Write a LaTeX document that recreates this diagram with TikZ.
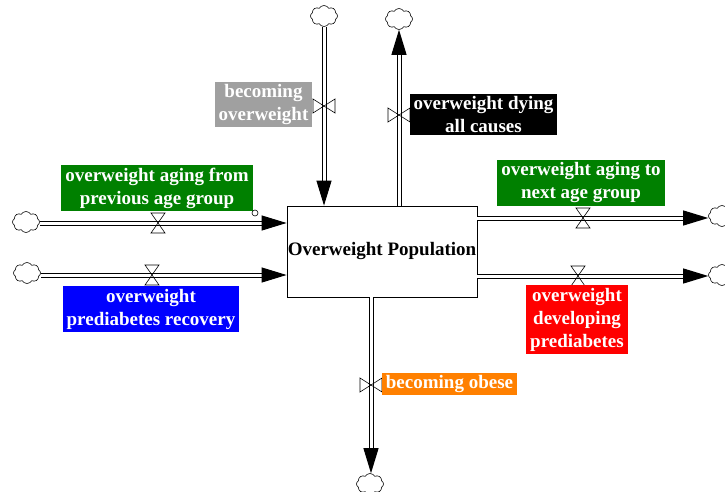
\documentclass[tikz,border=0pt]{standalone}
\usepackage{fontspec}
\setmainfont{Liberation Serif}
\usetikzlibrary{arrows.meta,shapes.symbols}
\definecolor{vgreen}{RGB}{0,128,0}
\definecolor{vgrey}{RGB}{160,160,160}
\definecolor{vblue}{RGB}{0,0,255}
\definecolor{vred}{RGB}{255,0,0}
\definecolor{vorange}{RGB}{255,128,0}
\begin{document}
\begin{tikzpicture}[x=1pt,y=-1pt,
  pipe/.style={draw=black,double=white,line width=1pt,double distance=3pt,-{Triangle[length=25pt,width=15pt]}},
  sky/.style={cloud,draw,cloud puffs=8,cloud puff arc=120,aspect=1.25,minimum width=27pt,minimum height=21pt,inner sep=0pt,line width=0.6pt},
  lbl/.style={fill=#1,text=white,font=\bfseries\fontsize{19}{23}\selectfont,align=center,inner xsep=4pt,inner ysep=2.5pt},
  stockbox/.style={draw,line width=0.8pt,minimum width=190pt,minimum height=91pt,inner sep=0pt,font=\bfseries\fontsize{19}{23}\selectfont}]
\useasboundingbox (0,0) rectangle (725,492);
\node[stockbox] (pop) at (382,251.5) {Overweight Population};
% clouds
\node[sky] (cbo) at (324,16) {};
\node[sky] (cdy) at (399,19) {};
\node[sky] (caf) at (26,222) {};
\node[sky] (cpr) at (27,273) {};
\node[sky] (can) at (722,216) {};
\node[sky] (cdp) at (722,275) {};
\node[sky] (cob) at (370,484) {};
% flows
\draw[pipe] (cbo) -- (cbo |- pop.north);
\draw[pipe] (pop.north -| cdy) -- (cdy);
\draw[pipe] (caf.east |- 0,223) -- (pop.west |- 0,223);
\draw[pipe] (cpr.east |- 0,275) -- (pop.west |- 0,275);
\draw[pipe] (pop.east |- 0,218) -- (can.west |- 0,218);
\draw[pipe] (pop.east |- 0,276) -- (cdp.west |- 0,276);
\draw[pipe] (pop.south -| 371,0) -- (cob.north -| 371,0);
% valves
\foreach \vx/\vy in {158/223,152/275,583/218,578/276}{\draw[line width=0.6pt](\vx-7,\vy-10)--(\vx+7,\vy-10)--(\vx-7,\vy+10)--(\vx+7,\vy+10)--cycle;}
\foreach \vx/\vy in {324/106,399/115,371/385}{\draw[line width=0.6pt](\vx-11,\vy-7)--(\vx-11,\vy+7)--(\vx+11,\vy-7)--(\vx+11,\vy+7)--cycle;}
% labels
\node[lbl=vgrey] (lbo) at (263.5,104.5) {becoming\\overweight};
\node[lbl=black] (ldy) at (483.5,114.5) {overweight dying\\all causes};
\node[lbl=vgreen] (laf) at (157,188) {overweight aging from\\previous age group};
\node[lbl=vblue] (lpr) at (151,309) {overweight\\prediabetes recovery};
\node[lbl=vgreen] (lan) at (581,183) {overweight aging to\\next age group};
\node[lbl=vred] (ldp) at (577,319.5) {overweight\\developing\\prediabetes};
\node[lbl=vorange] (lob) at (449.5,384) {becoming obese};
\node[circle,draw,fill=white,inner sep=0pt,minimum size=6pt,line width=0.6pt] (hdl) at (255,213) {};
\end{tikzpicture}
\end{document}
